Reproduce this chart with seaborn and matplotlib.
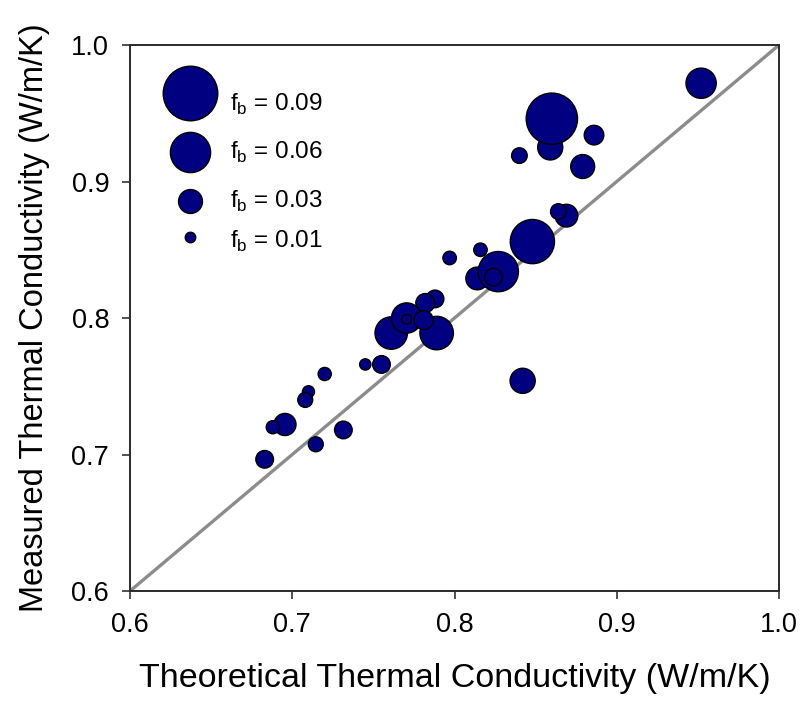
import matplotlib
matplotlib.use("Agg")
import matplotlib.pyplot as plt
import seaborn as sns
import pandas as pd
import numpy as np

# ---- data ----
theoretical = [0.952, 0.859, 0.860, 0.840, 0.886, 0.879, 0.869, 0.864,
               0.848, 0.797, 0.816, 0.814, 0.827, 0.824, 0.788, 0.782,
               0.761, 0.789, 0.7705, 0.7705, 0.781, 0.842, 0.755, 0.745,
               0.720, 0.710, 0.708, 0.6955, 0.688, 0.7315, 0.7145, 0.683]
measured = [0.972, 0.925, 0.946, 0.919, 0.934, 0.911, 0.875, 0.878,
            0.856, 0.844, 0.850, 0.829, 0.834, 0.830, 0.814, 0.811,
            0.789, 0.789, 0.800, 0.799, 0.7985, 0.754, 0.766, 0.766,
            0.759, 0.746, 0.740, 0.722, 0.720, 0.718, 0.7075, 0.6965]
fb = [0.041, 0.032, 0.083, 0.017, 0.023, 0.030, 0.028, 0.017,
      0.068, 0.014, 0.014, 0.028, 0.060, 0.020, 0.020, 0.022,
      0.045, 0.047, 0.041, 0.009, 0.022, 0.032, 0.020, 0.011,
      0.0135, 0.012, 0.016, 0.027, 0.0135, 0.020, 0.016, 0.020]
legend_fb = [0.09, 0.06, 0.03, 0.01]
legend_labels = ["0.09", "0.06", "0.03", "0.01"]
x_ticks = [0.6, 0.7, 0.8, 0.9, 1.0]
y_ticks = [0.6, 0.7, 0.8, 0.9, 1.0]

df = pd.DataFrame({"theoretical": theoretical, "measured": measured, "fb": fb})


def marker_area(f):
    d_px = 10.5 * (f / 0.01) ** 0.75
    return (d_px * 0.72) ** 2


sns.set_style("white")
plt.rcParams["font.family"] = ["Liberation Sans", "DejaVu Sans"]
plt.rcParams["mathtext.fontset"] = "custom"
plt.rcParams["mathtext.rm"] = "Liberation Sans"
plt.rcParams["text.color"] = "black"
plt.rcParams["axes.labelcolor"] = "black"
plt.rcParams["xtick.color"] = "black"
plt.rcParams["ytick.color"] = "black"

fig = plt.figure(figsize=(8.04, 7.09), dpi=100)
ax = fig.add_axes([0.1617, 0.1664, 0.8072, 0.7701])

# 1:1 line
line_df = pd.DataFrame({"x": [0.6, 1.0], "y": [0.6, 1.0]})
sns.lineplot(data=line_df, x="x", y="y", ax=ax, color="#8c8c8c", lw=2.4, zorder=1)

navy = "#000080"
sizes = {f: marker_area(f) for f in sorted(set(fb))}
sns.scatterplot(data=df, x="theoretical", y="measured", size="fb", sizes=sizes,
                color=navy, edgecolor="black", linewidth=1.0, legend=False,
                ax=ax, zorder=3)

# manual legend inside the axes
leg_y_marker = [0.912, 0.804, 0.714, 0.648]
leg_y_text = [0.879, 0.791, 0.701, 0.628]
for f, lab, ym, yt in zip(legend_fb, legend_labels, leg_y_marker, leg_y_text):
    ax.scatter([0.0925], [ym], s=marker_area(f), color=navy, edgecolor="black",
               linewidth=1.0, transform=ax.transAxes, zorder=4, clip_on=False)
    ax.text(0.154, yt, r"f$_\mathregular{b}$ = " + lab, transform=ax.transAxes,
            fontsize=17.5, va="baseline", ha="left", color="black")

ax.set_xlim(0.6, 1.0)
ax.set_ylim(0.6, 1.0)
ax.set_xticks(x_ticks)
ax.set_yticks(y_ticks)
ax.set_xticklabels([f"{t:.1f}" for t in x_ticks])
ax.set_yticklabels([f"{t:.1f}" for t in y_ticks])
ax.tick_params(axis="both", which="major", direction="out", length=6, width=1.2,
               color="#333333", labelsize=19.5, labelcolor="black",
               bottom=True, left=True)
ax.tick_params(axis="x", pad=9)
ax.tick_params(axis="y", pad=9)
for sp in ax.spines.values():
    sp.set_color("#2a2a2a")
    sp.set_linewidth(1.4)
    sp.set_visible(True)

ax.set_xlabel("Theoretical Thermal Conductivity (W/m/K)", fontsize=24.5,
              labelpad=18, color="black")
ax.set_ylabel("Measured Thermal Conductivity (W/m/K)", fontsize=23.5,
              labelpad=15, color="black")

fig.savefig("out.png", dpi=100, facecolor="white")
